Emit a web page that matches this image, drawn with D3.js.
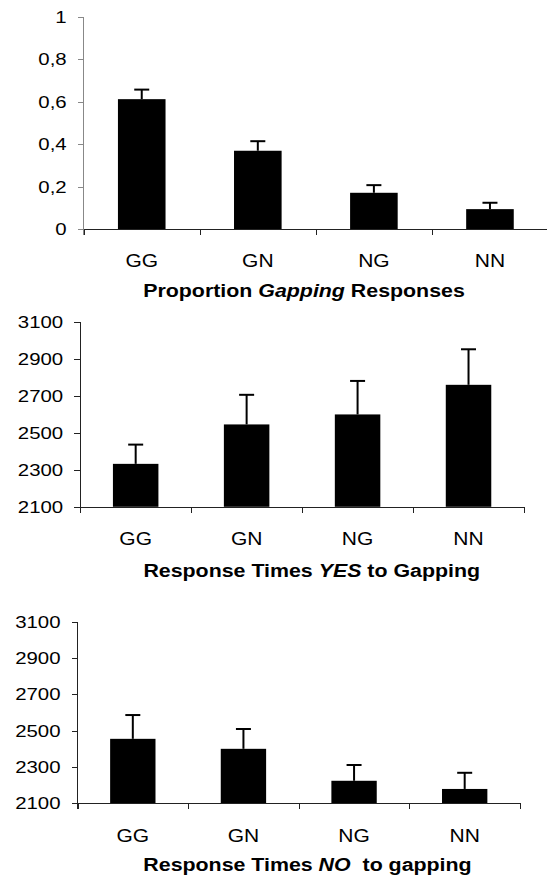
<!DOCTYPE html>
<html>
<head>
<meta charset="utf-8">
<script src="https://cdn.jsdelivr.net/npm/d3@7"></script>
<style>
  body { margin: 0; background: #fff; }
  svg { display: block; font-family: "Liberation Sans", Arial, sans-serif; }
  .title { white-space: pre; }
</style>
</head>
<body>
<svg id="chart" width="547" height="876"></svg>
<script>
// data
var categories = ["GG", "GN", "NG", "NN"];

var propMean = [0.613, 0.370, 0.172, 0.095];
var propErr  = [0.045, 0.045, 0.036, 0.030];
var propTicks = [0, 0.2, 0.4, 0.6, 0.8, 1];

var yesMean = [2332, 2545, 2599, 2759];
var yesErr  = [104, 160, 181, 192];

var noMean = [2455, 2400, 2224, 2179];
var noErr  = [131, 109, 87, 89];

var rtTicks = [2100, 2300, 2500, 2700, 2900, 3100];

var svg = d3.select("#chart");
var stretch = 1.2;   // the original picture was widened a bit

function stretchText(sel, k) {
    sel.each(function() {
        var t = d3.select(this),
            x = +t.attr("x") || 0,
            y = +t.attr("y") || 0;
        t.attr("x", 0).attr("y", 0)
         .attr("transform", "translate(" + x + "," + y + ") scale(" + k + ",1)");
    });
}

function drawPanel(opt) {
    var g = svg.append("g");

    var y = d3.scaleLinear()
        .domain(opt.domain)
        .range([opt.bottom, opt.top]);

    var x = d3.scaleBand()
        .domain(categories)
        .range([opt.left, opt.right])
        .paddingInner(0.59)
        .paddingOuter(0.295);

    var xb = d3.scaleLinear()
        .domain([0, categories.length])
        .range([opt.left, opt.right]);

    // bars
    g.selectAll("rect.bar")
        .data(opt.mean)
        .enter().append("rect")
        .attr("class", "bar")
        .attr("x", function(d, i) { return x(categories[i]); })
        .attr("width", x.bandwidth())
        .attr("y", function(d) { return y(d); })
        .attr("height", function(d) { return y(opt.domain[0]) - y(d); })
        .attr("fill", "#000");

    // error bars (upper half only)
    var err = g.selectAll("g.err")
        .data(opt.mean)
        .enter().append("g")
        .attr("class", "err")
        .attr("stroke", "#000")
        .attr("stroke-width", 2);
    err.append("line")
        .attr("x1", function(d, i) { return x(categories[i]) + x.bandwidth() / 2; })
        .attr("x2", function(d, i) { return x(categories[i]) + x.bandwidth() / 2; })
        .attr("y1", function(d) { return y(d); })
        .attr("y2", function(d, i) { return y(d + opt.err[i]); });
    err.append("line")
        .attr("x1", function(d, i) { return x(categories[i]) + x.bandwidth() / 2 - 7.5; })
        .attr("x2", function(d, i) { return x(categories[i]) + x.bandwidth() / 2 + 7.5; })
        .attr("y1", function(d, i) { return y(d + opt.err[i]); })
        .attr("y2", function(d, i) { return y(d + opt.err[i]); });

    // y axis
    var ya = g.append("g")
        .attr("transform", "translate(" + opt.left + ",0)")
        .call(d3.axisLeft(y).tickValues(opt.ticks).tickSize(6).tickPadding(11)
            .tickFormat(opt.fmt));
    ya.select(".domain").attr("d", "M0," + y(opt.domain[1]) + "V" + (y(opt.domain[0]) + 6));
    ya.selectAll("path, line").attr("stroke", opt.yColor).attr("shape-rendering", "crispEdges");
    ya.selectAll("text")
        .attr("font-size", 17)
        .attr("font-family", "'Liberation Sans', Arial, sans-serif")
        .attr("fill", "#000");
    stretchText(ya.selectAll("text"), stretch);

    // x axis with ticks between categories
    var xa = g.append("g")
        .attr("transform", "translate(0," + y(opt.domain[0]) + ")")
        .call(d3.axisBottom(xb).tickValues(d3.range(categories.length + 1))
            .tickSize(6).tickSizeOuter(0).tickFormat(""));
    xa.selectAll("path, line").attr("stroke", opt.xColor).attr("shape-rendering", "crispEdges");

    var labels = g.selectAll("text.cat")
        .data(categories)
        .enter().append("text")
        .attr("class", "cat")
        .attr("x", function(d) { return x(d) + x.bandwidth() / 2; })
        .attr("y", opt.catY)
        .attr("text-anchor", "middle")
        .attr("font-size", 17.5)
        .text(function(d) { return d; });
    stretchText(labels, stretch);

    // title with an italic middle part
    var title = g.append("text")
        .attr("class", "title")
        .attr("x", opt.titleX)
        .attr("y", opt.titleY)
        .attr("text-anchor", "middle")
        .attr("font-size", 17.8)
        .attr("font-weight", "bold");
    opt.title.forEach(function(part, i) {
        title.append("tspan")
            .attr("font-style", i === 1 ? "italic" : "normal")
            .text(part);
    });
    stretchText(title, stretch);
}

function commaFmt(d) { return String(d).replace(".", ","); }

drawPanel({
    mean: propMean, err: propErr, ticks: propTicks, domain: [0, 1], fmt: commaFmt,
    left: 83.7, right: 548, top: 17, bottom: 229.3,
    catY: 267, titleX: 304, titleY: 297,
    yColor: "#888", xColor: "#222",
    title: ["Proportion ", "Gapping", " Responses"]
});

drawPanel({
    mean: yesMean, err: yesErr, ticks: rtTicks, domain: [2100, 3100], fmt: d3.format("d"),
    left: 80.2, right: 524, top: 321.7, bottom: 506.8,
    catY: 545, titleX: 311.7, titleY: 577,
    yColor: "#222", xColor: "#222",
    title: ["Response Times ", "YES", " to Gapping"]
});

drawPanel({
    mean: noMean, err: noErr, ticks: rtTicks, domain: [2100, 3100], fmt: d3.format("d"),
    left: 77.5, right: 520, top: 621.7, bottom: 803.3,
    catY: 841.7, titleX: 307.5, titleY: 871,
    yColor: "#222", xColor: "#222",
    title: ["Response Times ", "NO", "  to gapping"]
});
</script>
</body>
</html>
